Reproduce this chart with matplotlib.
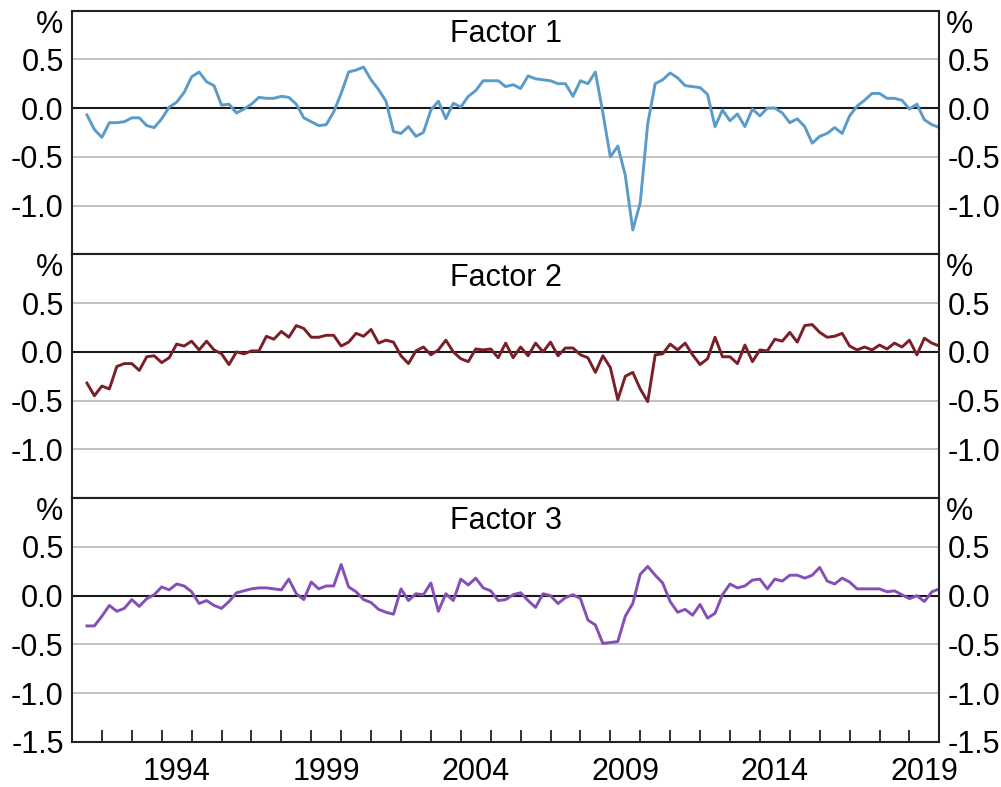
import matplotlib
matplotlib.use("Agg")
import matplotlib.pyplot as plt
import numpy as np
import pandas as pd

plt.rcParams['font.family'] = ['Liberation Sans', 'DejaVu Sans']

# Quarterly dates
quarters = pd.period_range('1991Q3', '2020Q1', freq='Q')

factor1 = [-0.07, -0.22, -0.30, -0.15, -0.15, -0.14, -0.10, -0.10, -0.18, -0.20,
           -0.11, 0.01, 0.06, 0.16, 0.32, 0.37, 0.27, 0.23, 0.03, 0.04,
           -0.05, -0.01, 0.04, 0.11, 0.10, 0.10, 0.12, 0.11, 0.04, -0.10,
           -0.14, -0.18, -0.17, -0.04, 0.15, 0.37, 0.39, 0.42, 0.29, 0.19,
           0.07, -0.24, -0.26, -0.19, -0.29, -0.25, -0.02, 0.07, -0.11, 0.05,
           0.01, 0.12, 0.18, 0.28, 0.28, 0.28, 0.22, 0.24, 0.20, 0.33,
           0.30, 0.29, 0.28, 0.25, 0.25, 0.12, 0.28, 0.25, 0.37, -0.05,
           -0.50, -0.39, -0.69, -1.25, -0.97, -0.16, 0.25, 0.29, 0.36, 0.31,
           0.23, 0.22, 0.21, 0.14, -0.19, -0.02, -0.13, -0.06, -0.19, -0.01,
           -0.08, 0.00, 0.00, -0.05, -0.15, -0.11, -0.19, -0.36, -0.29, -0.26,
           -0.20, -0.26, -0.08, 0.02, 0.08, 0.15, 0.15, 0.10, 0.10, 0.08,
           -0.01, 0.04, -0.12, -0.17, -0.20]

factor2 = [-0.32, -0.45, -0.35, -0.38, -0.15, -0.12, -0.12, -0.19, -0.05, -0.04,
           -0.11, -0.06, 0.08, 0.06, 0.11, 0.02, 0.11, 0.02, -0.02, -0.13,
           0.00, -0.02, 0.01, 0.01, 0.16, 0.13, 0.21, 0.15, 0.27, 0.24,
           0.15, 0.15, 0.17, 0.17, 0.06, 0.10, 0.19, 0.16, 0.23, 0.09,
           0.12, 0.10, -0.04, -0.12, 0.01, 0.05, -0.03, 0.02, 0.12, 0.00,
           -0.07, -0.10, 0.03, 0.02, 0.03, -0.06, 0.09, -0.06, 0.05, -0.04,
           0.09, 0.00, 0.10, -0.04, 0.04, 0.04, -0.03, -0.06, -0.21, -0.04,
           -0.16, -0.49, -0.25, -0.21, -0.38, -0.51, -0.03, -0.02, 0.08, 0.02,
           0.09, -0.03, -0.13, -0.07, 0.15, -0.05, -0.05, -0.12, 0.07, -0.10,
           0.02, 0.01, 0.13, 0.11, 0.20, 0.10, 0.27, 0.28, 0.20, 0.15,
           0.16, 0.19, 0.06, 0.02, 0.05, 0.02, 0.07, 0.03, 0.09, 0.05,
           0.12, -0.03, 0.14, 0.09, 0.06]

factor3 = [-0.31, -0.31, -0.21, -0.10, -0.16, -0.13, -0.04, -0.11, -0.03, 0.01,
           0.09, 0.06, 0.12, 0.10, 0.04, -0.08, -0.05, -0.10, -0.13, -0.06,
           0.03, 0.05, 0.07, 0.08, 0.08, 0.07, 0.06, 0.17, 0.02, -0.04,
           0.14, 0.07, 0.10, 0.10, 0.32, 0.09, 0.04, -0.04, -0.07, -0.14,
           -0.17, -0.19, 0.07, -0.05, 0.02, 0.01, 0.13, -0.16, 0.02, -0.05,
           0.17, 0.11, 0.18, 0.08, 0.05, -0.05, -0.04, 0.01, 0.03, -0.05,
           -0.12, 0.02, 0.00, -0.08, -0.02, 0.01, -0.03, -0.25, -0.30, -0.49,
           -0.48, -0.47, -0.21, -0.08, 0.22, 0.30, 0.21, 0.13, -0.06, -0.17,
           -0.14, -0.20, -0.09, -0.23, -0.18, 0.01, 0.12, 0.08, 0.10, 0.16,
           0.17, 0.07, 0.17, 0.15, 0.21, 0.21, 0.18, 0.21, 0.29, 0.15,
           0.12, 0.18, 0.14, 0.07, 0.07, 0.07, 0.07, 0.04, 0.05, 0.01,
           -0.03, 0.00, -0.06, 0.04, 0.07]

titles = ['Factor 1', 'Factor 2', 'Factor 3']
colors = ['#5b9bc9', '#7a1f27', '#8550b5']
series = [factor1, factor2, factor3]

ytick_vals = [-1.5, -1.0, -0.5, 0.0, 0.5]
ytick_labels = ['-1.5', '-1.0', '-0.5', '0.0', '0.5']
label_years = [1994, 1999, 2004, 2009, 2014, 2019]

x = np.array([q.year + (q.quarter - 1) / 4 for q in quarters])

FS = 22
fig = plt.figure(figsize=(10.01, 7.87), dpi=100)
gs = fig.add_gridspec(3, 1, left=0.0719, right=0.9384, top=0.9866, bottom=0.0572, hspace=0.0)

for k in range(3):
    ax = fig.add_subplot(gs[k])
    ax.set_xlim(1991, 2020)
    ax.set_ylim(-1.5, 1.0)
    for g in [0.5, -0.5, -1.0]:
        ax.axhline(g, color='#bdbdbd', lw=1.3, zorder=1)
    ax.axhline(0, color='#1a1a1a', lw=1.5, zorder=2)
    ax.plot(x, series[k], color=colors[k], lw=2.1, zorder=3)
    for s in ax.spines.values():
        s.set_linewidth(1.5)
        s.set_color('#222222')
        s.set_zorder(4)
    if k == 2:
        vals, labs = ytick_vals, ytick_labels
    else:
        vals, labs = ytick_vals[1:], ytick_labels[1:]
    ax.set_yticks(vals)
    ax.set_yticklabels(labs)
    ax.tick_params(axis='y', which='both', length=0, labelsize=FS, pad=6,
                   left=True, right=True, labelleft=True, labelright=True)
    ax.text(-0.010, 0.942, '%', transform=ax.transAxes, ha='right', va='center', fontsize=FS)
    ax.text(1.008, 0.942, '%', transform=ax.transAxes, ha='left', va='center', fontsize=FS)
    ax.text(0.5, 0.905, titles[k], transform=ax.transAxes, ha='center', va='center', fontsize=FS)
    if k == 2:
        ax.set_xticks(list(range(1992, 2020)))
        ax.set_xticklabels([])
        ax.tick_params(axis='x', which='major', direction='in', length=9, width=1.3, color='#222222')
        ax.set_xticks([y + 0.5 for y in label_years], minor=True)
        ax.set_xticklabels([str(y) for y in label_years], minor=True)
        ax.tick_params(axis='x', which='minor', length=0, labelsize=FS, pad=11)
    else:
        ax.set_xticks([])

fig.savefig('out.png', dpi=100)
